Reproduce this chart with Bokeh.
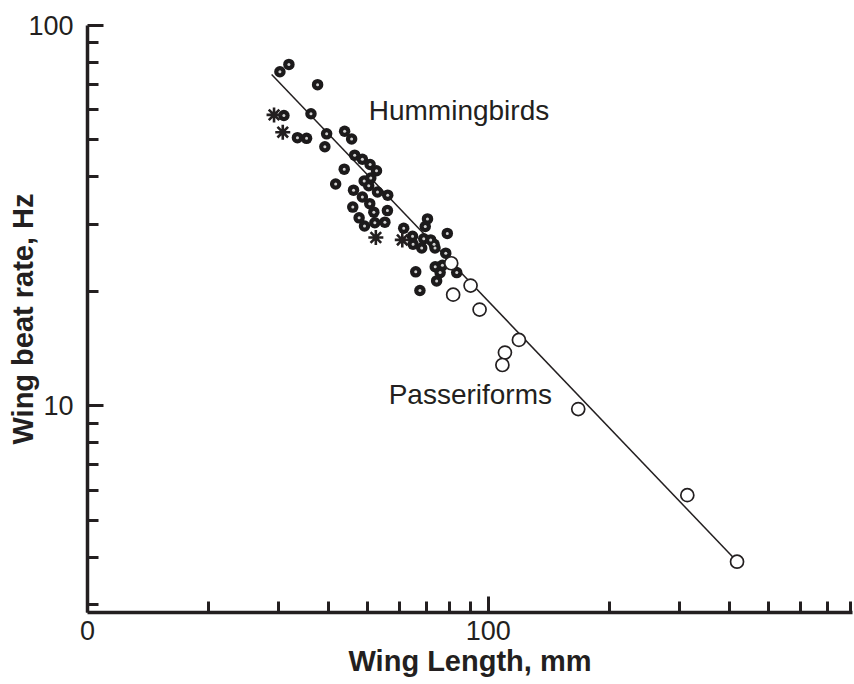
from bokeh.plotting import figure
from bokeh.models import FixedTicker, Label
from bokeh.embed import file_html
from bokeh.resources import INLINE

# Wing length (mm) and wing beat rate (Hz)
humming_len = [30.2, 31.8, 37.5, 30.9, 36.1, 33.4, 35.2, 39.5, 39.1, 43.8,
               45.6, 46.4, 48.5, 50.7, 52.6, 43.7, 41.6, 49.0, 50.9, 50.3,
               46.1, 48.5, 52.9, 56.1, 45.9, 50.6, 51.8, 56.0, 47.6, 49.1,
               52.1, 55.2, 61.5, 64.7, 64.9, 70.5, 69.6, 69.0, 71.8, 73.2,
               68.2, 73.6, 79.0, 78.3, 73.7, 76.8, 75.8, 83.4, 65.9, 74.3,
               67.5]
humming_rate = [75.6, 79.0, 69.9, 58.0, 58.6, 50.7, 50.5, 51.9, 48.0, 52.7,
                50.3, 45.6, 44.5, 43.1, 41.5, 41.9, 38.3, 39.0, 39.7, 37.9,
                36.9, 35.4, 36.5, 35.8, 33.3, 34.0, 32.3, 32.6, 31.2, 29.7,
                30.3, 30.4, 29.3, 27.9, 26.6, 31.0, 29.6, 27.5, 27.3, 26.6,
                26.0, 26.0, 28.4, 25.2, 23.2, 23.4, 22.4, 22.4, 22.5, 21.3,
                20.1]

# Hummingbird species marked with an asterisk
star_len = [29.2, 30.7, 52.4, 61.0]
star_rate = [58.2, 52.4, 27.7, 27.3]

passer_len = [80.8, 90.3, 81.7, 95.1, 119.2, 110.0, 108.4, 167.6, 313.6, 417.3]
passer_rate = [23.7, 20.7, 19.6, 17.9, 14.9, 13.8, 12.8, 9.8, 5.82, 3.89]

# End points of the fitted power-law line
fit_len = [28.8, 418.0]
fit_rate = [74.3, 3.89]

x_major = [10, 100]
x_minor = [20, 30, 40, 50, 60, 70, 80, 90, 200, 300, 400, 500, 600, 700, 800]
x_tick_labels = {10: "0", 100: "100"}
y_major = [10, 100]
y_minor = [3, 4, 5, 6, 7, 8, 9, 20, 30, 40, 50, 60, 70, 80, 90]
y_tick_labels = {10: "10", 100: "100"}

INK = "#231f20"
FONT = "Liberation Sans"

p = figure(width=854, height=684, frame_width=765, frame_height=587,
           x_axis_type="log", y_axis_type="log",
           x_range=(10, 810), y_range=(2.86, 100),
           output_backend="svg", toolbar_location=None,
           min_border_left=87, min_border_right=2,
           min_border_top=25, min_border_bottom=0)
p.outline_line_color = None
p.xgrid.visible = False
p.ygrid.visible = False
p.background_fill_color = "white"
p.border_fill_color = "white"

p.xaxis.ticker = FixedTicker(ticks=x_major, minor_ticks=x_minor)
p.yaxis.ticker = FixedTicker(ticks=y_major, minor_ticks=y_minor)
p.xaxis.major_label_overrides = x_tick_labels
p.yaxis.major_label_overrides = y_tick_labels

for ax in (p.xaxis[0], p.yaxis[0]):
    ax.axis_line_color = INK
    ax.axis_line_width = 3.5
    ax.major_tick_line_color = INK
    ax.minor_tick_line_color = INK
    ax.major_tick_line_width = 3
    ax.minor_tick_line_width = 3
    ax.major_tick_in = 16
    ax.major_tick_out = 0
    ax.minor_tick_in = 11
    ax.minor_tick_out = 0
    ax.major_label_text_font = FONT
    ax.major_label_text_font_size = "27px"
    ax.major_label_text_color = INK
    ax.axis_label_text_font = FONT
    ax.axis_label_text_font_size = "29px"
    ax.axis_label_text_font_style = "bold"
    ax.axis_label_text_color = INK

p.xaxis.axis_label = "Wing Length, mm"
p.yaxis.axis_label = "Wing beat rate, Hz"
p.xaxis.major_label_standoff = 8
p.yaxis.major_label_standoff = 14
p.xaxis.axis_label_standoff = 2
p.yaxis.axis_label_standoff = -14

p.line(fit_len, fit_rate, line_color=INK, line_width=1.5)

p.scatter(humming_len, humming_rate, size=11.5, marker="circle",
          fill_color="#1c1a1b", line_color=None)
p.scatter(humming_len, humming_rate, size=3, marker="circle",
          fill_color="#d0d0d0", line_color=None)
p.scatter(star_len, star_rate, size=15, marker="asterisk",
          line_color=INK, line_width=2.6)
p.scatter(passer_len, passer_rate, size=13, marker="circle",
          fill_color="white", line_color=INK, line_width=1.7)

p.add_layout(Label(x=50.3, y=59.8, text="Hummingbirds", text_font=FONT,
                   text_font_size="28px", text_color=INK,
                   text_baseline="middle"))
p.add_layout(Label(x=56.4, y=10.7, text="Passeriforms", text_font=FONT,
                   text_font_size="28px", text_color=INK,
                   text_baseline="middle"))

open("out.html", "w").write(file_html(p, INLINE))
